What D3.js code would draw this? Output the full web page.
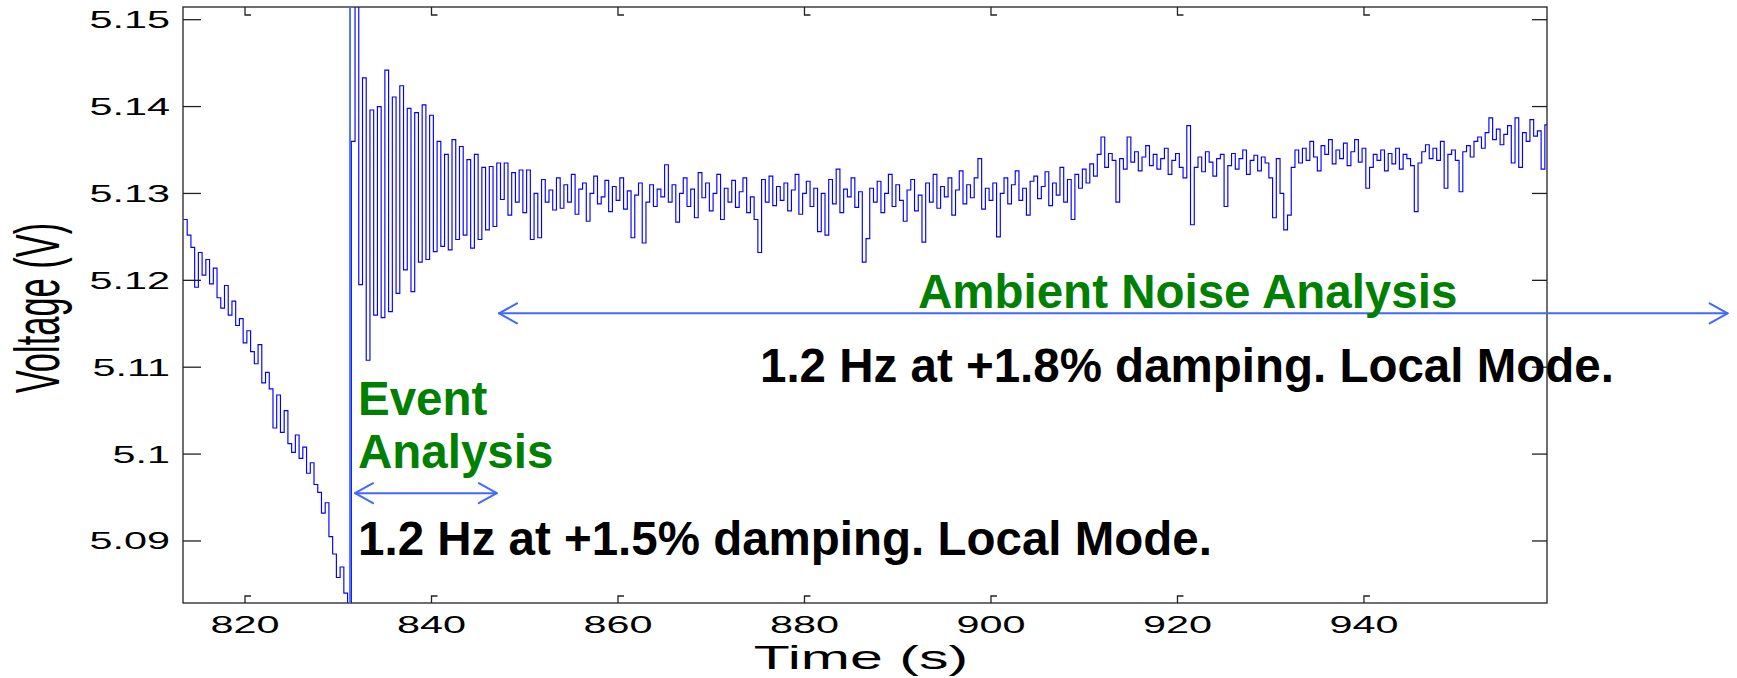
<!DOCTYPE html>
<html>
<head>
<meta charset="utf-8">
<script src="https://cdn.jsdelivr.net/npm/d3@7/dist/d3.min.js"></script>
<style>
  html, body { margin: 0; padding: 0; background: #fff; }
  svg { display: block; }
  text { font-family: "Liberation Sans", Arial, Helvetica, sans-serif; }
</style>
</head>
<body>
<svg id="chart" width="1737" height="678"></svg>
<script>
// ---------------- DATA ----------------
// PMU voltage samples (V), regular sampling starting at sampleStart, every sampleStep seconds
const sampleStart = 813.4;   // s
const sampleStep = 0.4;      // s
const voltage = [
  5.1270, 5.1252, 5.1238, 5.1192, 5.1232, 5.1206, 5.1224, 5.1196, 5.1214, 5.1180,
  5.1168, 5.1194, 5.1160, 5.1176, 5.1148, 5.1156, 5.1128, 5.1142, 5.1118, 5.1104,
  5.1126, 5.1082, 5.1094, 5.1075, 5.1030, 5.1068, 5.1025, 5.1050, 5.1012, 5.1002,
  5.1022, 5.0995, 5.1008, 5.0978, 5.0990, 5.0965, 5.0956, 5.0932, 5.0944, 5.0905,
  5.0885, 5.0858, 5.0870, 5.0840, 5.0805, 5.1360, 5.1540, 5.1195, 5.1433, 5.1108,
  5.1396, 5.1160, 5.1400, 5.1157, 5.1442, 5.1164, 5.1411, 5.1185, 5.1424, 5.1212,
  5.1398, 5.1187, 5.1393, 5.1221, 5.1402, 5.1224, 5.1390, 5.1233, 5.1360, 5.1239,
  5.1345, 5.1235, 5.1362, 5.1247, 5.1354, 5.1252, 5.1339, 5.1237, 5.1345, 5.1247,
  5.1330, 5.1258, 5.1331, 5.1262, 5.1335, 5.1293, 5.1335, 5.1275, 5.1324, 5.1290,
  5.1327, 5.1278, 5.1327, 5.1247, 5.1300, 5.1249, 5.1316, 5.1290, 5.1304, 5.1281,
  5.1318, 5.1283, 5.1310, 5.1290, 5.1322, 5.1276, 5.1305, 5.1312, 5.1268, 5.1300,
  5.1320, 5.1288, 5.1296, 5.1315, 5.1279, 5.1308, 5.1292, 5.1318, 5.1282, 5.1303,
  5.1249, 5.1298, 5.1312, 5.1243, 5.1290, 5.1310, 5.1285, 5.1305, 5.1296, 5.1333,
  5.1290, 5.1310, 5.1267, 5.1300, 5.1318, 5.1285, 5.1305, 5.1272, 5.1324, 5.1295,
  5.1312, 5.1280, 5.1300, 5.1322, 5.1270, 5.1306, 5.1290, 5.1315, 5.1284, 5.1302,
  5.1318, 5.1278, 5.1296, 5.1270, 5.1232, 5.1316, 5.1290, 5.1320, 5.1286, 5.1308,
  5.1292, 5.1312, 5.1280, 5.1304, 5.1322, 5.1276, 5.1300, 5.1314, 5.1285, 5.1306,
  5.1256, 5.1300, 5.1252, 5.1316, 5.1288, 5.1328, 5.1278, 5.1305, 5.1296, 5.1318,
  5.1284, 5.1302, 5.1221, 5.1248, 5.1306, 5.1290, 5.1314, 5.1278, 5.1300, 5.1322,
  5.1285, 5.1310, 5.1292, 5.1268, 5.1304, 5.1316, 5.1280, 5.1298, 5.1244, 5.1312,
  5.1290, 5.1322, 5.1283, 5.1308, 5.1296, 5.1318, 5.1275, 5.1304, 5.1326, 5.1288,
  5.1310, 5.1295, 5.1318, 5.1340, 5.1282, 5.1306, 5.1292, 5.1312, 5.1250, 5.1300,
  5.1318, 5.1288, 5.1310, 5.1326, 5.1292, 5.1306, 5.1275, 5.1314, 5.1320, 5.1294,
  5.1308, 5.1325, 5.1286, 5.1312, 5.1298, 5.1330, 5.1290, 5.1316, 5.1270, 5.1322,
  5.1306, 5.1328, 5.1312, 5.1334, 5.1320, 5.1345, 5.1365, 5.1330, 5.1346, 5.1338,
  5.1290, 5.1340, 5.1328, 5.1365, 5.1336, 5.1348, 5.1326, 5.1342, 5.1355, 5.1332,
  5.1345, 5.1328, 5.1340, 5.1352, 5.1322, 5.1338, 5.1346, 5.1330, 5.1318, 5.1378,
  5.1264, 5.1330, 5.1342, 5.1325, 5.1348, 5.1336, 5.1320, 5.1340, 5.1345, 5.1285,
  5.1332, 5.1346, 5.1328, 5.1340, 5.1350, 5.1322, 5.1338, 5.1344, 5.1326, 5.1342,
  5.1335, 5.1318, 5.1272, 5.1340, 5.1300, 5.1258, 5.1275, 5.1330, 5.1350, 5.1335,
  5.1352, 5.1338, 5.1360, 5.1342, 5.1326, 5.1355, 5.1345, 5.1362, 5.1334, 5.1350,
  5.1340, 5.1358, 5.1332, 5.1348, 5.1362, 5.1336, 5.1352, 5.1306, 5.1330, 5.1345,
  5.1338, 5.1350, 5.1326, 5.1346, 5.1334, 5.1352, 5.1328, 5.1345, 5.1340, 5.1332,
  5.1279, 5.1335, 5.1348, 5.1356, 5.1340, 5.1352, 5.1338, 5.1360, 5.1306, 5.1345,
  5.1350, 5.1338, 5.1302, 5.1348, 5.1355, 5.1342, 5.1360, 5.1365, 5.1352, 5.1370,
  5.1387, 5.1362, 5.1374, 5.1356, 5.1368, 5.1378, 5.1335, 5.1387, 5.1330, 5.1370,
  5.1360, 5.1385, 5.1366, 5.1372, 5.1328, 5.1379, 5.1379
];

const xDomain = [813.35, 959.63];
const yDomain = [5.08286, 5.15146];
const xTicks = [820, 840, 860, 880, 900, 920, 940];
const xTickLabels = ["820", "840", "860", "880", "900", "920", "940"];
const yTicks = [5.09, 5.10, 5.11, 5.12, 5.13, 5.14, 5.15];
const yTickLabels = ["5.09", "5.1", "5.11", "5.12", "5.13", "5.14", "5.15"];

const xLabel = "Time (s)";
const yLabel = "Voltage (V)";

// annotations (data coordinates)
const eventTime = 831.26;
const eventArrow = { t0: 831.8, t1: 847.0, v: 5.0955 };
const ambientArrow = { t0: 847.24, t1: 979.0, v: 5.1162 };
const greenLabels = [
  { text: "Event", t: 832.12, v: 5.1045 },
  { text: "Analysis", t: 832.12, v: 5.0984 },
  { text: "Ambient Noise Analysis", t: 892.17, v: 5.1168 }
];
const blackLabels = [
  { text: "1.2 Hz at +1.5% damping. Local Mode.", t: 832.12, v: 5.0884 },
  { text: "1.2 Hz at +1.8% damping. Local Mode.", t: 875.23, v: 5.1083 }
];

// ---------------- DRAW ----------------
const svg = d3.select("#chart");
const L = 183, R = 1547, T = 7, B = 603;
const SX = 1.8; // horizontal stretch of the original figure text

const x = d3.scaleLinear().domain(xDomain).range([L, R]);
const y = d3.scaleLinear().domain(yDomain).range([B, T]);

svg.append("rect").attr("width", 1737).attr("height", 678).attr("fill", "#fff");

svg.append("defs").append("clipPath").attr("id", "plotclip")
  .append("rect").attr("x", L).attr("y", T).attr("width", R - L).attr("height", B - T);

// data line
const series = voltage.map((v, i) => ({ t: sampleStart + i * sampleStep, v }));
const line = d3.line().x(d => x(d.t)).y(d => y(d.v)).curve(d3.curveStepAfter);
svg.append("path")
  .datum(series)
  .attr("clip-path", "url(#plotclip)")
  .attr("fill", "none")
  .attr("stroke", "#0000ff")
  .attr("stroke-width", 1.15)
  .attr("d", line);

// axes box
const axisColor = "#222";
svg.append("rect")
  .attr("x", L).attr("y", T).attr("width", R - L).attr("height", B - T)
  .attr("fill", "none").attr("stroke", axisColor).attr("stroke-width", 1.3);

// x ticks (inward, with small foot)
const gx = svg.append("g");
xTicks.forEach(t => {
  const px = x(t);
  gx.append("path").attr("d", `M${px},${B}V${B - 7}H${px + 6}`)
    .attr("fill", "none").attr("stroke", axisColor).attr("stroke-width", 1.3);
  gx.append("path").attr("d", `M${px},${T}V${T + 8}H${px + 6}`)
    .attr("fill", "none").attr("stroke", axisColor).attr("stroke-width", 1.3);
});
xTicks.forEach((t, i) => {
  svg.append("g")
    .attr("transform", `translate(${x(t)},633) scale(${SX},1)`)
    .append("text")
    .attr("text-anchor", "middle")
    .attr("font-size", 23)
    .attr("fill", "#000")
    .text(xTickLabels[i]);
});

// y ticks
yTicks.forEach((v, i) => {
  const py = y(v);
  svg.append("line").attr("x1", L).attr("x2", L + 18).attr("y1", py).attr("y2", py)
    .attr("stroke", axisColor).attr("stroke-width", 1.3);
  svg.append("line").attr("x1", R).attr("x2", R - 15).attr("y1", py).attr("y2", py)
    .attr("stroke", axisColor).attr("stroke-width", 1.3);
  svg.append("g")
    .attr("transform", `translate(170,${py + 8.5}) scale(${SX},1)`)
    .append("text")
    .attr("text-anchor", "end")
    .attr("font-size", 23)
    .attr("fill", "#000")
    .text(yTickLabels[i]);
});

// axis labels
svg.append("g")
  .attr("transform", `translate(${(L + R) / 2 - 4},669) scale(1.79,1)`)
  .append("text")
  .attr("text-anchor", "middle")
  .attr("font-size", 33)
  .attr("fill", "#000")
  .text(xLabel);

svg.append("g")
  .attr("transform", `translate(59,${(T + B) / 2 + 3}) scale(${SX},1) rotate(-90)`)
  .append("text")
  .attr("text-anchor", "middle")
  .attr("font-size", 34.5)
  .attr("fill", "#000")
  .text(yLabel);

// annotations
const annBlue = "#4169ff";
svg.append("line")
  .attr("x1", x(eventTime)).attr("x2", x(eventTime))
  .attr("y1", T).attr("y2", B)
  .attr("stroke", annBlue).attr("stroke-width", 1.8);

function drawArrow(a) {
  const g = svg.append("g").attr("fill", "none").attr("stroke", annBlue)
    .attr("stroke-width", 2).attr("stroke-linecap", "round").attr("stroke-linejoin", "round");
  const x0 = x(a.t0), x1 = x(a.t1), py = y(a.v);
  g.append("line").attr("x1", x0).attr("x2", x1).attr("y1", py).attr("y2", py);
  g.append("path").attr("d", `M${x0 + 18},${py - 10}L${x0},${py}L${x0 + 18},${py + 10}`);
  g.append("path").attr("d", `M${x1 - 18},${py - 10}L${x1},${py}L${x1 - 18},${py + 10}`);
}
drawArrow(eventArrow);
drawArrow(ambientArrow);

greenLabels.forEach(d => {
  svg.append("text")
    .attr("x", x(d.t)).attr("y", y(d.v))
    .attr("font-size", 47.5).attr("font-weight", "bold")
    .attr("fill", "#008000")
    .text(d.text);
});
blackLabels.forEach(d => {
  svg.append("text")
    .attr("x", x(d.t)).attr("y", y(d.v))
    .attr("font-size", 47.5).attr("font-weight", "bold")
    .attr("fill", "#000")
    .text(d.text);
});
</script>
</body>
</html>
